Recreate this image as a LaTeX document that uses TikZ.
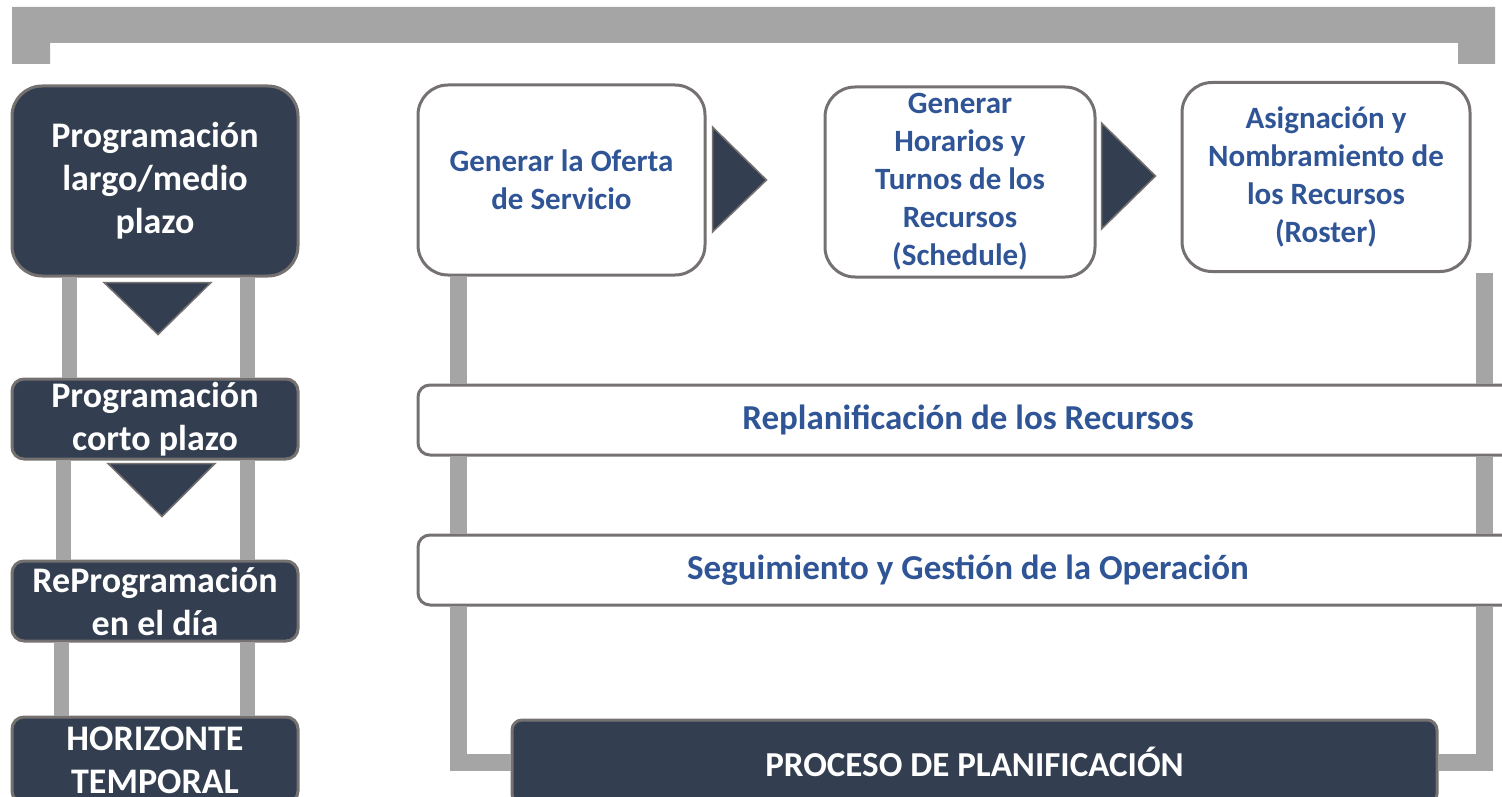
\documentclass[tikz,border=0pt]{standalone}
\usepackage{fontspec}
\setmainfont{Carlito}
\usepackage{xcolor}

\definecolor{azuloscuro}{HTML}{333F50}
\definecolor{bordegris}{HTML}{767171}
\definecolor{barragris}{HTML}{A5A5A5}
\definecolor{azultexto}{HTML}{2F5597}

\tikzset{
  cajaoscura/.style={draw=bordegris, line width=3pt, fill=azuloscuro, text=white,
    font=\bfseries\fontsize{36}{43}\selectfont, align=center, inner sep=0pt},
  cajablanca/.style={draw=bordegris, line width=3pt, fill=white, text=azultexto,
    font=\bfseries\fontsize{31}{38}\selectfont, align=center, inner sep=0pt},
  barra/.style={draw=barragris, line width=17pt},
  punta/.style={fill=azuloscuro, draw=bordegris, line width=1.5pt, line join=miter}
}

\begin{document}
\begin{tikzpicture}[x=1pt,y=-1pt]
  \useasboundingbox (0,0) rectangle (1502,797);
  \clip (0,0) rectangle (1502,797);

  % 顶部的灰色框
  \fill[barragris] (12,64) -- (12,7) -- (1495,7) -- (1495,64) -- (1458,64)
    -- (1458,43) -- (50,43) -- (50,64) -- cycle;

  % 左列: 时间范围
  \node[cajaoscura, rounded corners=30pt, minimum width=286pt, minimum height=190pt]
    (largo) at (155,181) {Programación\\largo/medio\\plazo};
  \node[cajaoscura, rounded corners=12pt, minimum width=286pt, minimum height=80pt]
    (corto) at (155,419) {Programación\\corto plazo};
  \node[cajaoscura, rounded corners=12pt, minimum width=286pt, minimum height=80pt]
    (dia) at (155,601) {ReProgramación\\en el día};
  \node[cajaoscura, rounded corners=12pt, minimum width=286pt, minimum height=86pt]
    (horizonte) at (155,760) {HORIZONTE\\TEMPORAL};

  % 左列的竖条
  \draw[barra, line width=15pt] ([xshift=59pt]largo.south west) -- ([xshift=59pt]corto.north west);
  \draw[barra, line width=15pt] ([xshift=-52pt]largo.south east) -- ([xshift=-52pt]corto.north east);
  \draw[barra, line width=15pt] ([xshift=53pt]corto.south west) -- ([xshift=53pt]dia.north west);
  \draw[barra, line width=15pt] ([xshift=-52pt]corto.south east) -- ([xshift=-52pt]dia.north east);
  \draw[barra, line width=15pt] ([xshift=51pt]dia.south west) -- ([xshift=51pt]horizonte.north west);
  \draw[barra, line width=15pt] ([xshift=-52pt]dia.south east) -- ([xshift=-52pt]horizonte.north east);

  % 向下的三角
  \draw[punta] ([xshift=-51pt,yshift=-5pt]largo.south) -- ([xshift=56pt,yshift=-5pt]largo.south)
    -- ([xshift=3pt,yshift=-57pt]largo.south) -- cycle;
  \draw[punta] ([xshift=-47pt,yshift=-3pt]corto.south) -- ([xshift=60pt,yshift=-3pt]corto.south)
    -- ([xshift=7pt,yshift=-56pt]corto.south) -- cycle;

  % 上面三个步骤
  \node[cajablanca, rounded corners=30pt, minimum width=287pt, minimum height=190pt]
    (oferta) at (561.5,180) {Generar la Oferta\\de Servicio};
  \node[cajablanca, rounded corners=30pt, minimum width=270pt, minimum height=190pt]
    (horarios) at (960,182) {Generar\\Horarios y\\Turnos de los\\Recursos\\(Schedule)};
  \node[cajablanca, rounded corners=30pt, minimum width=288pt, minimum height=189pt]
    (roster) at (1326,177) {Asignación y\\Nombramiento de\\los Recursos\\(Roster)};

  % 向右的三角
  \draw[punta] ([xshift=6pt,yshift=53pt]oferta.east) -- ([xshift=60pt]oferta.east)
    -- ([xshift=6pt,yshift=-52pt]oferta.east) -- cycle;
  \draw[punta] ([xshift=5pt,yshift=59pt]horarios.east) -- ([xshift=59pt,yshift=6pt]horarios.east)
    -- ([xshift=5pt,yshift=-47pt]horarios.east) -- cycle;

  % 长条
  \node[cajablanca, rounded corners=12pt, minimum width=1100pt, minimum height=70pt,
    font=\bfseries\fontsize{35}{40}\selectfont]
    (replan) at (968,420) {Replanificación de los Recursos};
  \node[cajablanca, rounded corners=12pt, minimum width=1100pt, minimum height=70pt,
    font=\bfseries\fontsize{35}{40}\selectfont]
    (seguim) at (968,570) {Seguimiento y Gestión de la Operación};
  \node[cajaoscura, rounded corners=10pt, minimum width=925pt, minimum height=84pt,
    font=\bfseries\fontsize{35}{40}\selectfont]
    (proceso) at (974.5,762) {PROCESO DE PLANIFICACIÓN};

  % 右边的竖条
  \coordinate (izq) at ([xshift=42pt]oferta.west);
  \coordinate (der) at ([xshift=13pt]roster.east);
  \draw[barra] (izq |- oferta.south) -- (izq |- replan.north);
  \draw[barra] (izq |- replan.south) -- (izq |- seguim.north);
  \draw[barra, line join=miter] (izq |- seguim.south) |- (proceso.west);
  \draw[barra] (der |- roster.south) -- (der |- replan.north);
  \draw[barra] (der |- replan.south) -- (der |- seguim.north);
  \draw[barra, line join=miter] (der |- seguim.south) |- (proceso.east);
\end{tikzpicture}
\end{document}
